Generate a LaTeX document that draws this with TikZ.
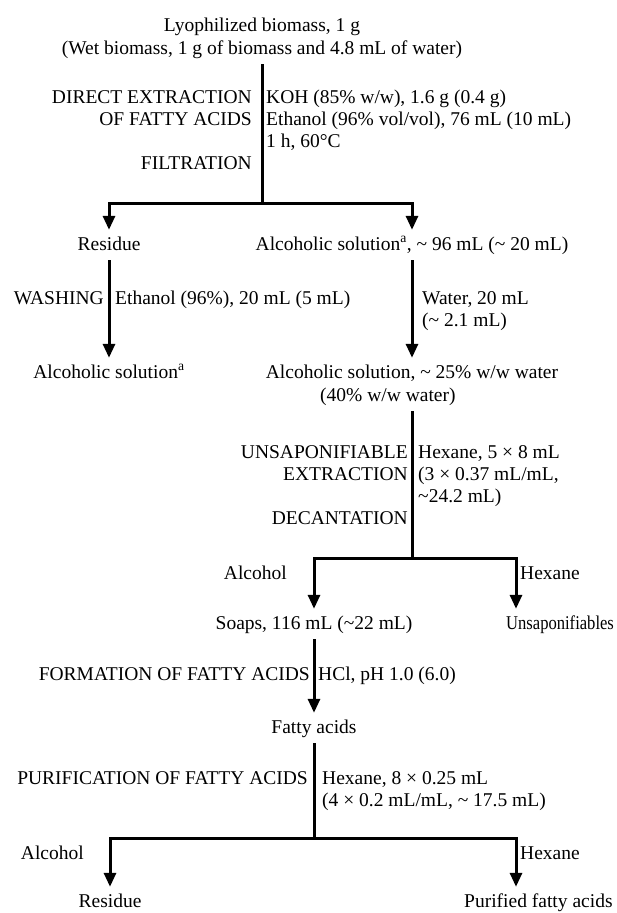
\documentclass[tikz,border=0pt]{standalone}
\usepackage{fontspec}
\usepackage{graphicx}
\setmainfont{Liberation Serif}
\usetikzlibrary{arrows.meta}

\begin{document}
\begin{tikzpicture}[x=1pt, y=-1pt, font=\fontsize{19.5}{22}\selectfont,
  stage/.style={inner xsep=0pt, inner ysep=6pt, text height=14pt, text depth=4pt, anchor=base},
  lbl/.style={inner sep=0pt, align=right, anchor=north east},
  cond/.style={inner sep=0pt, align=left, anchor=north west},
  link/.style={line width=3pt},
  flow/.style={line width=3pt, -{Triangle[width=12pt,length=14pt]}}]
\useasboundingbox (0,0) rectangle (616,913);

\node[stage] (biomass) at (262,31) {Lyophilized biomass, 1 g};
\node[stage] (wetbiomass) at (262,54) {(Wet biomass, 1 g of biomass and 4.8 mL of water)};
\node[lbl] (extrlbl) at (252,90) {DIRECT EXTRACTION\\OF FATTY ACIDS\\[22pt]FILTRATION};
\node[cond] (extrcond) at (266,90) {KOH (85\% w/w), 1.6 g (0.4 g)\\Ethanol (96\% vol/vol), 76 mL (10 mL)\\1 h, 60°C};
\coordinate (split1) at (262,203);

\node[stage] (residue) at (109,250) {Residue};
\node[stage] (alcsol) at (412,250) {Alcoholic solution\textsuperscript{a}, \textasciitilde{} 96 mL (\textasciitilde{} 20 mL)};
\node[stage, anchor=base east] (washlbl) at (104,304) {WASHING};
\node[stage, anchor=base west] (washcond) at (115,304) {Ethanol (96\%), 20 mL (5 mL)};
\node[cond] (watercond) at (422,291) {Water, 20 mL\\(\textasciitilde{} 2.1 mL)};
\node[stage] (alcsolres) at (109,378) {Alcoholic solution\textsuperscript{a}};
\node[stage] (alcsolwater) at (412,378) {Alcoholic solution, \textasciitilde{} 25\% w/w water};
\node[stage, anchor=base west] (alcsolpct) at (320,401) {(40\% w/w water)};

\node[lbl] (unsaplbl) at (408,445) {UNSAPONIFIABLE\\EXTRACTION\\[22pt]DECANTATION};
\node[cond] (unsapcond) at (418,445) {Hexane, 5 × 8 mL\\(3 × 0.37 mL/mL,\\\textasciitilde24.2 mL)};
\coordinate (split2) at (412,558);
\coordinate (hexdrop1) at (516,558);
\node[stage, anchor=base east] (alclbl) at (287,579) {Alcohol};
\node[stage, anchor=base west] (hexlbl) at (520,579) {Hexane};
\node[stage] (soaps) at (314,629) {Soaps, 116 mL (\textasciitilde22 mL)};
\node[stage, anchor=base west] (unsap) at (506,629) {\scalebox{0.85}[1]{Unsaponifiables}};

\node[stage, anchor=base east] (formlbl) at (310,680) {FORMATION OF FATTY ACIDS};
\node[stage, anchor=base west] (formcond) at (318,680) {HCl, pH 1.0 (6.0)};
\node[stage] (fatty) at (314,733) {Fatty acids};
\node[stage, anchor=base east] (purlbl) at (308,784) {PURIFICATION OF FATTY ACIDS};
\node[cond] (purcond) at (322,771) {Hexane, 8 × 0.25 mL\\(4 × 0.2 mL/mL, \textasciitilde{} 17.5 mL)};
\coordinate (split3) at (314,838);
\coordinate (hexdrop2) at (516,838);
\node[stage, anchor=base east] (alclbl2) at (84,859) {Alcohol};
\node[stage, anchor=base west] (hexlbl2) at (520,859) {Hexane};
\node[stage] (residue2) at (110,907) {Residue};
\node[stage, anchor=base west] (purified) at (464,907) {Purified fatty acids};

\draw[link] (wetbiomass) -- (split1);
\draw[flow] (split1) -| (residue);
\draw[flow] (split1) -| (alcsol);
\draw[flow] (residue) -- (alcsolres);
\draw[flow] (alcsol) -- (alcsolwater);
\draw[link] (alcsolpct.south -| split2) -- (split2);
\draw[flow] (split2) -| (soaps);
\draw[flow] (split2) -- (hexdrop1) -- (hexdrop1 |- unsap.north);
\draw[flow] (soaps) -- (fatty);
\draw[link] (fatty) -- (split3);
\draw[flow] (split3) -| (residue2);
\draw[flow] (split3) -- (hexdrop2) -- (hexdrop2 |- purified.north);
\end{tikzpicture}
\end{document}
